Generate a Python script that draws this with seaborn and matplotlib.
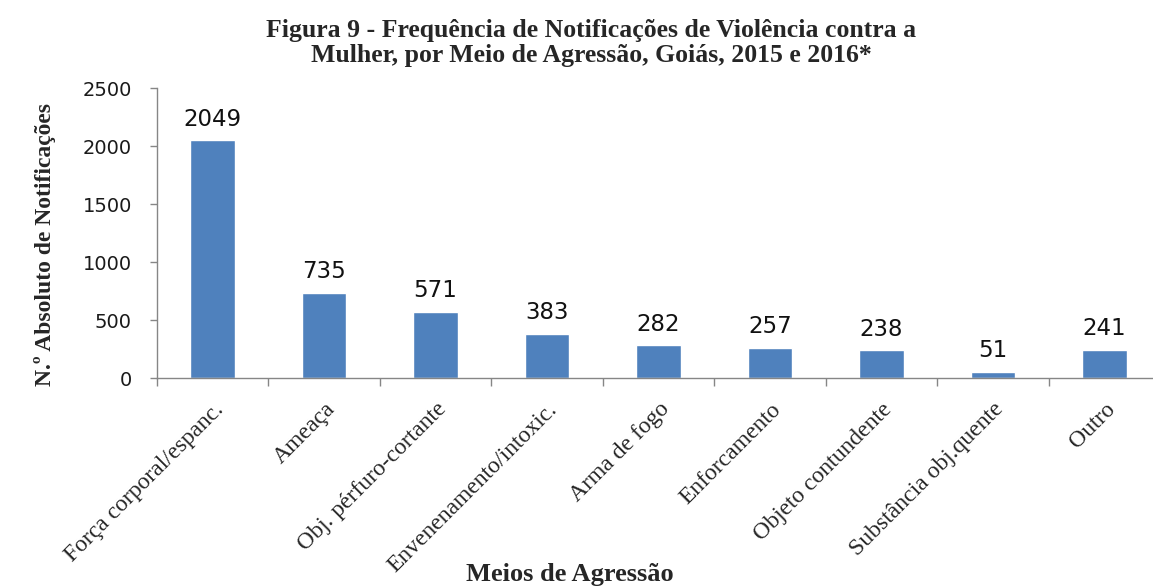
import matplotlib
matplotlib.use("Agg")
import matplotlib.pyplot as plt
import seaborn as sns
import pandas as pd
import numpy as np

categories = ["Força corporal/espanc.", "Ameaça", "Obj. pérfuro-cortante",
              "Envenenamento/intoxic.", "Arma de fogo", "Enforcamento",
              "Objeto contundente", "Substância obj.quente", "Outro"]
values = [2049, 735, 571, 383, 282, 257, 238, 51, 241]
yticks = [0, 500, 1000, 1500, 2000, 2500]

title = "Figura 9 - Frequência de Notificações de Violência contra a\nMulher, por Meio de Agressão, Goiás, 2015 e 2016*"
xlabel = "Meios de Agressão"
ylabel = "N.º Absoluto de Notificações"

sns.set_style("white")
plt.rcParams['font.family'] = ['DejaVu Sans']

df = pd.DataFrame({"cat": categories, "val": values})

fig = plt.figure(figsize=(11.53, 5.87), dpi=100)
ax = fig.add_axes([157/1153, (587-378)/587, 1003/1153, 290/587])

sns.barplot(data=df, x="cat", y="val", order=categories, color="#4F81BD",
            saturation=1, width=0.40, ax=ax)

ax.set_xlim(-0.5, len(categories) - 0.5)
ax.set_ylim(0, 2500)
ax.set_yticks(yticks)
ax.set_yticklabels([str(t) for t in yticks], fontsize=14, color="#1a1a1a")

for i, v in enumerate(values):
    ax.annotate(str(v), (i, v), xytext=(0, 7), textcoords="offset points",
                ha="center", va="bottom", fontsize=16.5, color="#111111")

ax.set_xticks(range(len(categories)))
ax.set_xticklabels(categories, rotation=45, ha="right", rotation_mode="anchor",
                   fontsize=17, family="Liberation Serif")
ax.tick_params(axis="x", which="major", length=0, pad=15)
ax.set_xticks(np.arange(-0.5, len(categories), 1), minor=True)
ax.tick_params(axis="x", which="minor", length=6, color="#868686", width=1, direction="out", bottom=True)
ax.tick_params(axis="y", length=5, color="#868686", width=1, direction="out", left=True, pad=13)

for s in ["top", "right"]:
    ax.spines[s].set_visible(False)
for s in ["left", "bottom"]:
    ax.spines[s].set_color("#868686")
    ax.spines[s].set_linewidth(1)

ax.set_xlabel("")
ax.set_ylabel("")
fig.text(45/1153, 1 - 245/587, ylabel, rotation=90, ha="center", va="center",
         fontsize=17, fontweight="bold", family="Liberation Serif")
fig.text(570/1153, 1 - 574/587, xlabel, ha="center", va="center",
         fontsize=19, fontweight="bold", family="Liberation Serif")
fig.text(591/1153, 1 - 43/587, title, ha="center", va="center",
         fontsize=18.5, fontweight="bold", family="Liberation Serif", linespacing=1.1)

fig.savefig("out.png", dpi=100)
